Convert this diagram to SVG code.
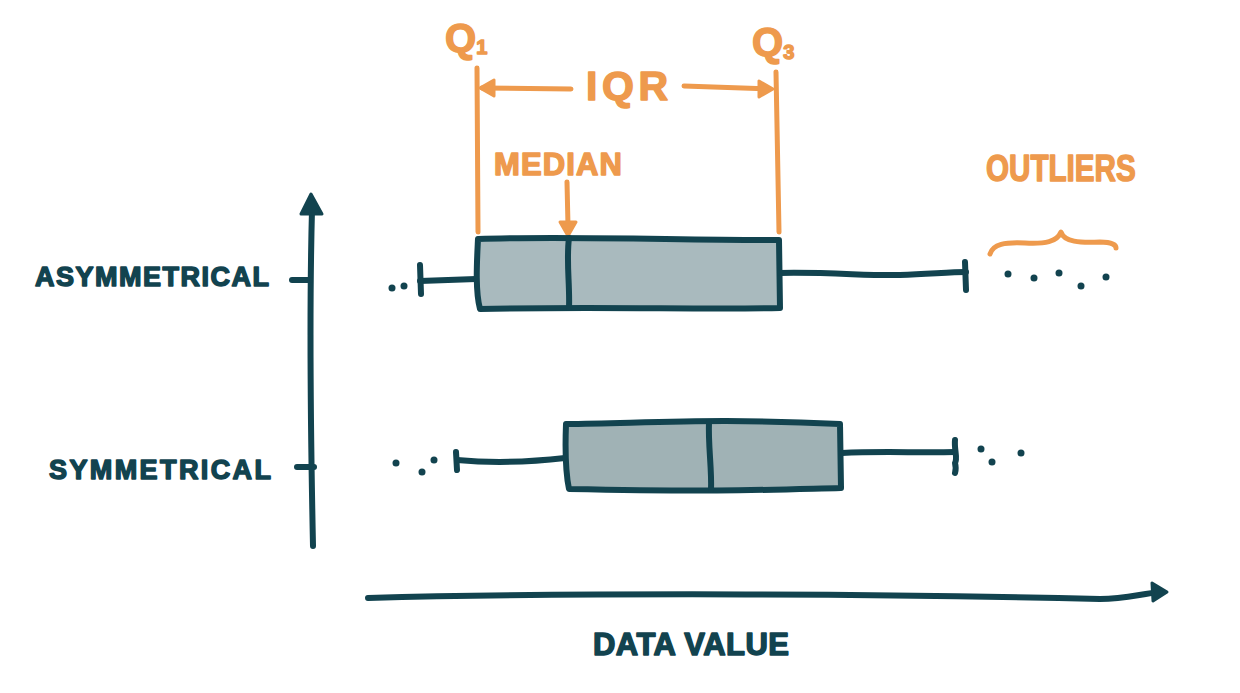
<svg xmlns="http://www.w3.org/2000/svg" width="1240" height="693" viewBox="0 0 1240 693">
<style>
.ink{fill:none;stroke:#12434f;stroke-width:6;stroke-linecap:round;stroke-linejoin:round}
.or{fill:none;stroke:#ee9a4d;stroke-width:5;stroke-linecap:round;stroke-linejoin:round}
.box{stroke:#12434f;stroke-width:6;stroke-linejoin:round}
.dot{fill:#12434f}
.lbl{font-family:"Liberation Sans",Arial,sans-serif;font-weight:bold;fill:#12434f;stroke:#12434f;stroke-width:1.5;stroke-linejoin:round}
.olbl{font-family:"Liberation Sans",Arial,sans-serif;font-weight:bold;fill:#ee9a4d;stroke:#ee9a4d;stroke-width:1.5;stroke-linejoin:round}
</style>
<rect width="1240" height="693" fill="#ffffff"/>
<g id="connectors">
  <path class="ink" d="M313,546 C311,450 309,320 312,210"/>
  <path d="M311,194 L322,214 L301,214 Z" fill="#12434f" stroke="#12434f" stroke-width="3" stroke-linejoin="round"/>
  <path class="ink" d="M292,280 L310,280"/>
  <path class="ink" d="M297,467 L314,467"/>
  <path class="ink" d="M368,598 C600,592 900,594 1100,599 C1125,599 1140,594 1160,592"/>
  <path d="M1152,583 L1167,592 L1153,601 Z" fill="#12434f" stroke="#12434f" stroke-width="3" stroke-linejoin="round"/>
  <path class="or" d="M477,68 L478,232"/>
  <path class="or" d="M776,72 L779,232"/>
  <path class="or" d="M482,88 L571,89"/>
  <path d="M480,88 L494,80 L494,96 Z" fill="#ee9a4d" stroke="#ee9a4d" stroke-width="3" stroke-linejoin="round"/>
  <path class="or" d="M684,86 L770,89"/>
  <path d="M773,89 L759,81 L759,97 Z" fill="#ee9a4d" stroke="#ee9a4d" stroke-width="3" stroke-linejoin="round"/>
  <path class="or" d="M567,182 L568,226"/>
  <path d="M568,236 L560,222 L576,222 Z" fill="#ee9a4d" stroke="#ee9a4d" stroke-width="3" stroke-linejoin="round"/>
  <path class="or" d="M990,254 C993,244 1005,242 1025,243 C1045,244 1057,242 1061,232 C1064,242 1080,243 1100,242 C1112,242 1116,245 1116,248"/>
</g>
<g id="asymmetrical-box">
  <path class="ink" d="M420,281 L476,279"/>
  <path class="ink" d="M420,265 L421,294"/>
  <circle class="dot" cx="392" cy="288" r="3.5"/>
  <circle class="dot" cx="404" cy="286" r="3.5"/>
  <path class="box" fill="#a9babe" d="M478,239 C560,236 680,240 779,240 L780,308 C700,310 600,306 480,309 C475,290 477,260 478,239 Z"/>
  <path class="ink" d="M569,238 C566,260 570,285 569,308"/>
  <path class="ink" d="M780,273 C830,272 870,276 900,275 C930,274 950,272 966,272"/>
  <path class="ink" d="M965,262 L966,290"/>
  <circle class="dot" cx="1008" cy="274" r="3.5"/>
  <circle class="dot" cx="1034" cy="278" r="3.5"/>
  <circle class="dot" cx="1059" cy="273" r="3.5"/>
  <circle class="dot" cx="1081" cy="286" r="3.5"/>
  <circle class="dot" cx="1106" cy="277" r="3.5"/>
</g>
<g id="symmetrical-box">
  <path class="ink" d="M457,460 C490,463 530,462 565,458"/>
  <path class="ink" d="M456,452 L457,470"/>
  <circle class="dot" cx="396" cy="463" r="3.5"/>
  <circle class="dot" cx="422" cy="472" r="3.5"/>
  <circle class="dot" cx="434" cy="460" r="3.5"/>
  <path class="box" fill="#a0b2b5" d="M566,424 C650,423 720,418 840,424 L841,488 C760,490 720,492 569,489 C565,470 565,450 566,424 Z"/>
  <path class="ink" d="M709,422 C708,445 712,470 711,490"/>
  <path class="ink" d="M842,453 C880,451 920,453 955,452"/>
  <path class="ink" d="M955,440 C954,450 958,458 955,463 C956,467 956,470 955,473"/>
  <circle class="dot" cx="981" cy="449" r="3.5"/>
  <circle class="dot" cx="992" cy="462" r="3.5"/>
  <circle class="dot" cx="1021" cy="453" r="3.5"/>
</g>
<g id="labels">
  <text class="lbl" x="35" y="286" font-size="27" textLength="234" lengthAdjust="spacing">ASYMMETRICAL</text>
  <text class="lbl" x="49" y="479" font-size="27" textLength="222" lengthAdjust="spacing">SYMMETRICAL</text>
  <text class="lbl" x="593" y="655" font-size="31" textLength="196" lengthAdjust="spacing">DATA VALUE</text>
  <text class="olbl" x="445" y="52" font-size="40">Q<tspan font-size="20" dy="2">1</tspan></text>
  <text class="olbl" x="752" y="56" font-size="40">Q<tspan font-size="20" dy="3">3</tspan></text>
  <text class="olbl" x="586" y="100" font-size="41" textLength="82" lengthAdjust="spacing">IQR</text>
  <text class="olbl" x="494" y="175" font-size="31" textLength="128" lengthAdjust="spacing">MEDIAN</text>
  <text class="olbl" transform="translate(986,181) scale(0.8,1)" x="0" y="0" font-size="37">OUTLIERS</text>
</g>
</svg>
